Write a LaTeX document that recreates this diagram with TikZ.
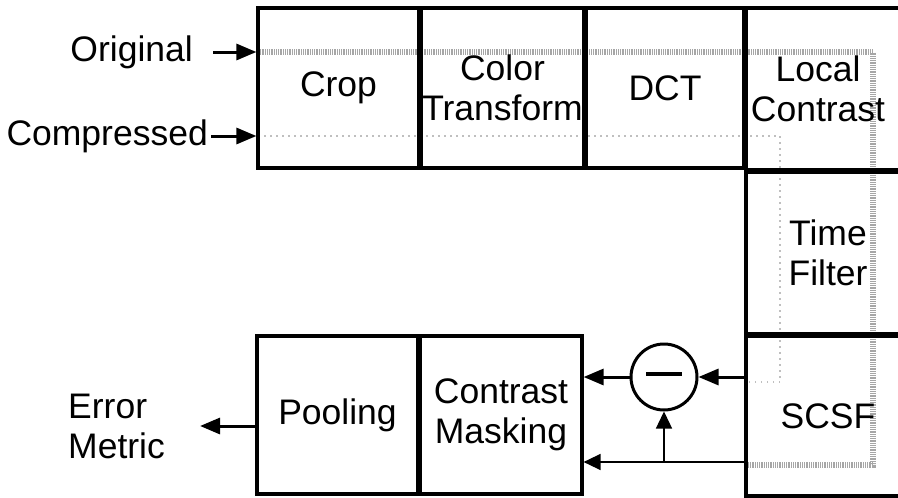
\documentclass[tikz,border=0pt]{standalone}
\usepackage{fontspec}
\setmainfont{Liberation Sans}
\usetikzlibrary{arrows.meta}
\begin{document}
\begin{tikzpicture}[x=1pt,y=-1pt,
  txtfont/.style={font=\fontsize{35.5}{40}\selectfont},
  box/.style={draw, line width=3.2pt, inner sep=0pt, align=center, txtfont},
  txt/.style={inner sep=0pt, align=center, txtfont},
  lbl/.style={inner sep=0pt, align=left, txtfont},
  arr/.style={line width=3pt, -{Triangle[length=20pt,width=16pt]}},
  thinarr/.style={line width=1.4pt, -{Triangle[length=17pt,width=16pt]}},
  origline/.style={draw=gray!70, line width=6pt, dash pattern=on 1pt off 0.8pt},
  compline/.style={draw=gray!50, line width=1.4pt, dash pattern=on 1.5pt off 4.5pt}]
\useasboundingbox (0,0) rectangle (898,498);
\clip (0,0) rectangle (898,498);

% input / output labels
\node[lbl, anchor=east] (orig) at (193,52) {Original};
\node[lbl, anchor=east] (comp) at (208,136) {Compressed};
\node[lbl, anchor=west] (err) at (68,426) {Error\\Metric};

\coordinate (oc) at (873,465);
\coordinate (cc) at (780,382);

% gray signal paths
\draw[origline] (258,52) -| (oc) -- (746,465);
\draw[compline] (258,136) -| (cc) -- (746,382);

% boxes
\node[box, minimum width=161pt, minimum height=160pt] (crop) at (338.5,88) {Crop};
\node[box, minimum width=163pt, minimum height=160pt] (ct) at (502.5,88) {Color\\Transform};
\node[box, minimum width=158pt, minimum height=160pt] (dct) at (665,88) {DCT};
\node[box, minimum width=164pt, minimum height=162pt] (lc) at (828,89) {};
\node[txt] (lct) at ([xshift=-10pt]lc.center) {Local\\Contrast};
\node[box, minimum width=164pt, minimum height=162pt] (tf) at (828,253) {Time\\Filter};
\node[box, minimum width=164pt, minimum height=160pt] (scsf) at (828,416) {SCSF};
\node[box, minimum width=161pt, minimum height=158pt] (pool) at (337.5,415) {Pooling};
\node[box, minimum width=162pt, minimum height=158pt] (cm) at (501,415) {Contrast\\Masking};

% input arrows
\draw[arr] ([xshift=20pt]orig.east) -- (orig.east -| crop.west);
\draw[arr] ([xshift=3pt]comp.east) -- (comp.east -| crop.west);

% subtraction
\node[circle, draw, line width=3pt, minimum size=66pt, inner sep=0pt] (sub) at (664,377) {};
\draw[line width=4pt] ([xshift=-18pt,yshift=3pt]sub.center) -- ([xshift=18pt,yshift=3pt]sub.center);
\draw[arr] (sub.east -| scsf.west) -- (sub.east);
\draw[arr] (sub.west) -- (sub.west -| cm.east);

\coordinate (low) at (664,462);
\draw[thinarr] (low -| scsf.west) -- (low -| cm.east);
\draw[thinarr] (low) -- (sub.south);

% output arrow
\draw[arr] (pool.west |- err.east) -- ([xshift=35pt]err.east);
\end{tikzpicture}
\end{document}
